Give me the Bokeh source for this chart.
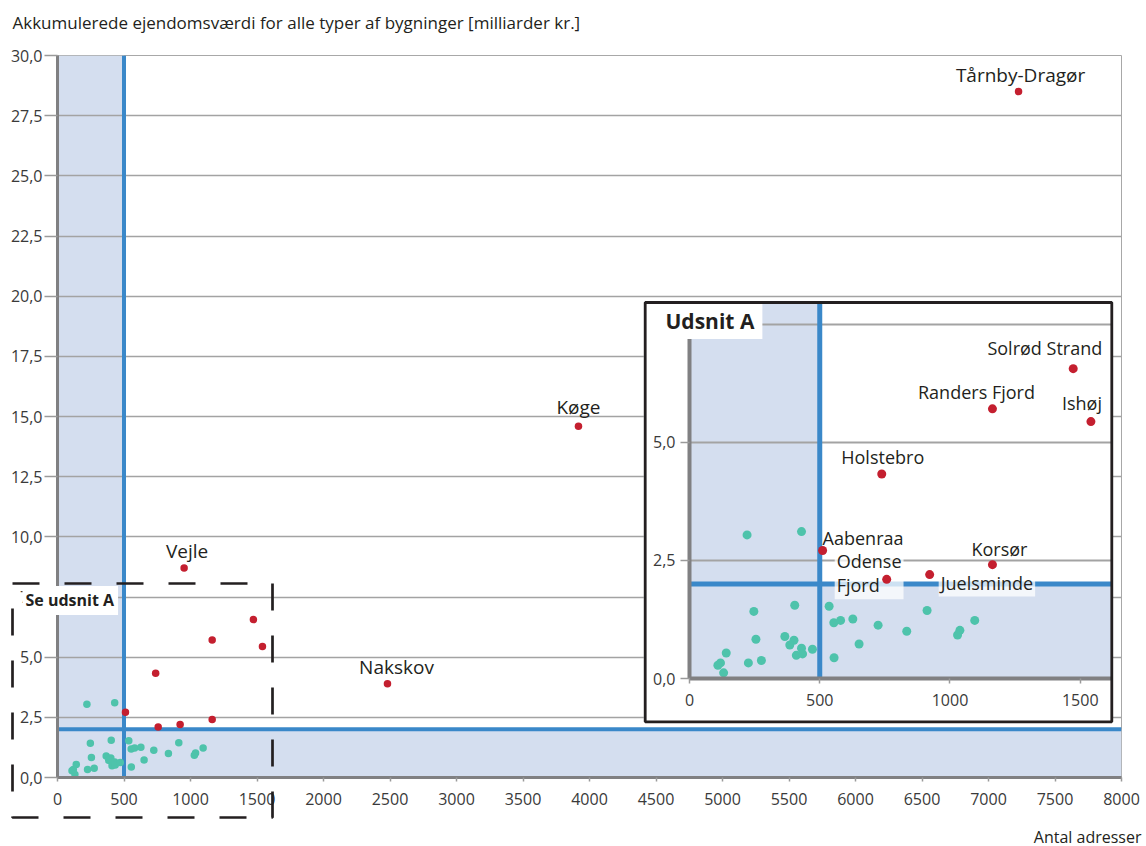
from bokeh.plotting import figure
from bokeh.models import Range1d, BoxAnnotation, Span, Label, FixedTicker, CustomJSTickFormatter
from bokeh.layouts import column
from bokeh.embed import file_html
from bokeh.resources import INLINE

# ---------------- data ----------------
teal_x = [221, 430, 247, 404, 536, 554, 580, 627, 724, 834, 912, 1095, 1038, 1029, 255,
          366, 401, 385, 430, 410, 434, 472, 555, 651, 141, 119, 109, 131, 226, 276]
teal_y = [3.04, 3.11, 1.42, 1.55, 1.53, 1.18, 1.23, 1.26, 1.13, 1.00, 1.44, 1.23, 1.02, 0.92, 0.83,
          0.89, 0.81, 0.71, 0.64, 0.49, 0.52, 0.62, 0.44, 0.73, 0.54, 0.33, 0.28, 0.12, 0.33, 0.38]

red_names = ["Tårnby-Dragør", "Køge", "Vejle", "Nakskov", "Solrød Strand", "Randers Fjord",
             "Ishøj", "Holstebro", "Aabenraa", "Odense Fjord", "Juelsminde", "Korsør"]
red_x = [7226, 3917, 952, 2481, 1473, 1163, 1541, 738, 511, 757, 922, 1163]
red_y = [28.5, 14.6, 8.7, 3.9, 6.56, 5.71, 5.44, 4.33, 2.71, 2.10, 2.20, 2.41]

main_x_ticks = list(range(0, 8001, 500))
main_y_ticks = [0.0, 2.5, 5.0, 7.5, 10.0, 12.5, 15.0, 17.5, 20.0, 22.5, 25.0, 27.5, 30.0]
inset_x_ticks = [0, 500, 1000, 1500]
inset_y_ticks = [0.0, 2.5, 5.0]
inset_grid = [2.5, 5.0, 7.5]

limit_x = 500
limit_y = 2.0

y_title = "Akkumulerede ejendomsværdi for alle typer af bygninger [milliarder kr.]"
x_title = "Antal adresser"
box_title = "Se udsnit A"
inset_title = "Udsnit A"

# ---------------- style ----------------
FONT = "Open Sans"
SHADE = "#d4deef"
BLUE = "#3a88c9"
TEAL = "#4ec3ab"
RED = "#c41f2f"
GRID = "#a3a3a3"
AXIS = "#808082"
TXT = "#231f20"
W, H = 1146, 846

main_label_pos = {  # name: (align, dx, dy)
    "Tårnby-Dragør": ("center", 2, 17),
    "Køge": ("center", 0, 19),
    "Vejle": ("center", 3, 17),
    "Nakskov": ("center", 9, 17),
}
inset_label_pos = {  # name: (align, dx, dy, background, wrap)
    "Solrød Strand": ("right", 31, 21, False, False),
    "Randers Fjord": ("center", -16, 17, False, False),
    "Ishøj": ("right", 13, 19, False, False),
    "Holstebro": ("center", 1, 17, False, False),
    "Aabenraa": ("left", -2, 13, False, False),
    "Odense Fjord": ("left", -52, 6, True, True),
    "Korsør": ("center", 7, 16, False, False),
    "Juelsminde": ("left", 9, -8, True, False),
}

fmt = CustomJSTickFormatter(code="return tick.toFixed(1).replace('.', ',');")


def style_axes(fig, xt, yt, gt, lw, xtick, ytick, xs, ys):
    fig.xgrid.visible = False
    fig.ygrid.ticker = FixedTicker(ticks=gt)
    fig.ygrid.grid_line_color = GRID
    fig.ygrid.grid_line_width = 1.5
    fig.xaxis.ticker = FixedTicker(ticks=xt)
    fig.yaxis.ticker = FixedTicker(ticks=yt)
    fig.yaxis.formatter = fmt
    for ax in (fig.xaxis, fig.yaxis):
        ax.axis_line_color = AXIS
        ax.axis_line_width = lw
        ax.major_tick_line_color = "#9a9a9a"
        ax.major_tick_line_width = 1.5
        ax.major_tick_in = 0
        ax.minor_tick_line_color = None
        ax.major_label_text_font = FONT
        ax.major_label_text_font_size = "16px"
        ax.major_label_text_color = "#3a3a3a"
    fig.xaxis.major_tick_out = xtick
    fig.yaxis.major_tick_out = ytick
    fig.xaxis.major_label_standoff = xs
    fig.yaxis.major_label_standoff = ys


def add_bands(fig, lw):
    fig.add_layout(BoxAnnotation(left=0, right=limit_x, fill_color=SHADE, fill_alpha=1,
                                 line_color=None, level="image"))
    fig.add_layout(BoxAnnotation(bottom=0, top=limit_y, fill_color=SHADE, fill_alpha=1,
                                 line_color=None, level="image"))
    fig.add_layout(Span(location=limit_x, dimension="height", line_color=BLUE, line_width=lw,
                        level="underlay"))
    fig.add_layout(Span(location=limit_y, dimension="width", line_color=BLUE, line_width=lw,
                        level="underlay"))


# ---------------- main chart ----------------
p = figure(width=W, height=H, x_range=Range1d(0, 8000), y_range=Range1d(0, 30),
           output_backend="svg", toolbar_location=None,
           min_border_left=57, min_border_right=25, min_border_top=55, min_border_bottom=69)
p.background_fill_color = "white"
p.border_fill_color = "white"
p.outline_line_color = "#a8a8a8"
p.outline_line_width = 1
style_axes(p, main_x_ticks, main_y_ticks, main_y_ticks, 3, 4, 13, 11, 2)
add_bands(p, 4)

p.scatter(teal_x, teal_y, size=7.5, color=TEAL, line_color=None)
p.scatter(red_x, red_y, size=7.5, color=RED, line_color=None)

for n, x, y in zip(red_names, red_x, red_y):
    if n in main_label_pos:
        a, dx, dy = main_label_pos[n]
        p.add_layout(Label(x=x, y=y, text=n, text_align=a, text_baseline="middle",
                           x_offset=dx, y_offset=dy, text_font=FONT, text_font_size="19px",
                           text_color=TXT))

# ---------------- inset (Udsnit A) ----------------
q = figure(width=470, height=421, x_range=Range1d(0, 1620), y_range=Range1d(0, 7.94),
           output_backend="svg", toolbar_location=None,
           min_border_left=46, min_border_right=2, min_border_top=2, min_border_bottom=44)
q.background_fill_color = "white"
q.border_fill_color = "white"
q.outline_line_color = None
style_axes(q, inset_x_ticks, inset_y_ticks, inset_grid, 4, 5, 9, 10, 5)
q.ygrid.grid_line_width = 1.8
add_bands(q, 5)

q.scatter(teal_x, teal_y, size=9, color=TEAL, line_color=None)
q.scatter(red_x, red_y, size=9, color=RED, line_color=None)

for n, x, y in zip(red_names, red_x, red_y):
    if n in inset_label_pos:
        a, dx, dy, bg, wrap = inset_label_pos[n]
        q.add_layout(Label(x=x, y=y, text=n.replace(" ", "\n") if wrap else n,
                           text_align=a, text_baseline="middle",
                           x_offset=dx, y_offset=dy, text_font=FONT, text_font_size="18px",
                           text_color=TXT, text_line_height=1.0,
                           background_fill_color="white" if bg else None,
                           background_fill_alpha=0.75, padding=2,
                           level="underlay" if bg else "annotation"))

# ---------------- overlay for texts/frames outside the plot areas (page pixels) ----------------
o = figure(width=W, height=H, x_range=Range1d(0, W), y_range=Range1d(H, 0),
           output_backend="svg", toolbar_location=None, min_border=0,
           x_axis_location=None, y_axis_location=None)
o.grid.visible = False
o.outline_line_color = None
o.background_fill_color = None
o.border_fill_color = None

o.add_layout(Label(x=12, y=22, text=y_title, text_align="left", text_baseline="middle",
                   text_font=FONT, text_font_size="17px", text_color=TXT))
o.add_layout(Label(x=1141, y=836, text=x_title, text_align="right", text_baseline="middle",
                   text_font=FONT, text_font_size="16px", text_color=TXT))
# dashed frame marking the zoomed region
o.add_layout(BoxAnnotation(left=12, right=272, top=583, bottom=817, fill_alpha=0,
                           line_color=TXT, line_alpha=1, line_width=2.7, line_dash="27 25"))
o.add_layout(Label(x=22, y=600, text=box_title, text_align="left", text_baseline="middle",
                   text_font=FONT, text_font_size="16px", text_font_style="bold",
                   text_color=TXT, background_fill_color="white", background_fill_alpha=1,
                   padding=(3, 4, 3, 4)))
# frame of the inset
o.add_layout(BoxAnnotation(left=644.7, right=1111.3, top=302, bottom=721.3, fill_alpha=0,
                           line_color=TXT, line_alpha=1, line_width=2.8))
o.add_layout(Label(x=662, y=321, text=inset_title, text_align="left", text_baseline="middle",
                   text_font=FONT, text_font_size="21px", text_font_style="bold",
                   text_color=TXT, background_fill_color="white", background_fill_alpha=1,
                   padding=(3, 8, 3, 4)))

# stack the three canvases on top of each other (nested so borders are not synchronised)
cq = column(q)
cq.margin = (301 - H, 0, 0, 643)
co = column(o)
co.margin = (-(301 + 421), 0, 0, 0)

layout = column(p, cq, co)
open("out.html", "w").write(file_html(layout, INLINE))
